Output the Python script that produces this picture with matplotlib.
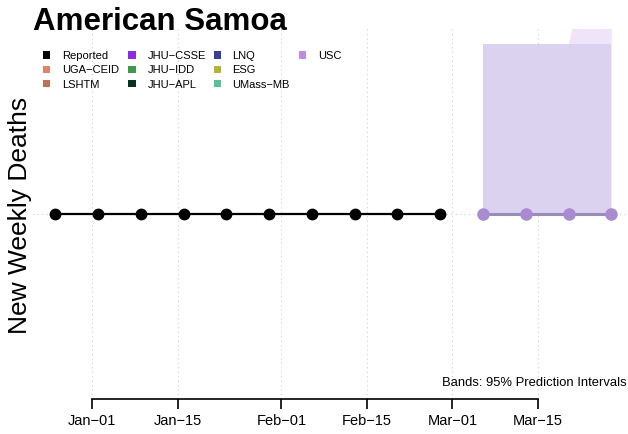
import matplotlib
matplotlib.use("Agg")
from matplotlib import pyplot as plt
from matplotlib.patches import Rectangle
import matplotlib.dates as mdates
import datetime as dt

plt.rcParams['font.family'] = ['Liberation Sans', 'DejaVu Sans']

# reported weekly deaths (all zero)
rep_dates = [dt.date(2020, 12, 26) + dt.timedelta(days=7 * i) for i in range(10)]
rep_vals = [0, 0, 0, 0, 0, 0, 0, 0, 0, 0]

# USC forecast with 95% band
fc_dates = [dt.date(2021, 3, 6), dt.date(2021, 3, 13), dt.date(2021, 3, 20), dt.date(2021, 3, 27)]
fc_vals = [0, 0, 0, 0]
band_lo = [0, 0, 0, 0]
band_hi_inner = [0.92, 0.92, 0.92, 0.92]
band_hi_outer = [0.92, 0.92, 0.92, 2.07]

models = ["Reported", "UGA\u2212CEID", "LSHTM", "JHU\u2212CSSE", "JHU\u2212IDD",
          "JHU\u2212APL", "LNQ", "ESG", "UMass\u2212MB", "USC"]
model_cols = ["#000000", "#E0826A", "#BF7058", "#8B2BE2", "#3E9A48",
              "#05331F", "#3A3D98", "#B5B434", "#55BF9E", "#C08AE0"]

tick_dates = [dt.date(2021, 1, 1), dt.date(2021, 1, 15), dt.date(2021, 2, 1),
              dt.date(2021, 2, 15), dt.date(2021, 3, 1), dt.date(2021, 3, 15)]
tick_labels = ["Jan\u221201", "Jan\u221215", "Feb\u221201", "Feb\u221215", "Mar\u221201", "Mar\u221215"]

fig = plt.figure(figsize=(6.28, 4.35), dpi=100)
W, H = 628, 435
ax = fig.add_axes([33 / W, 1 - 400 / H, (628 - 33) / W, 370 / H])

# x limits so Jan-01 sits at px 92 and Mar-15 at px 538
d0 = mdates.date2num(dt.date(2021, 1, 1))
ppd = (538 - 92) / 73.0
ax.set_xlim(d0 - (92 - 33) / ppd, d0 + (628 - 92) / ppd)
ax.set_ylim(-1, 1)

for d in tick_dates:
    ax.axvline(mdates.date2num(d), color="#cccccc", lw=0.8, ls=(0, (1, 3)), zorder=0)
ax.axhline(0, color="#cccccc", lw=0.8, ls=(0, (1, 3)), zorder=0)

fx = mdates.date2num(fc_dates)
ax.fill_between(fx, band_lo, band_hi_outer, color="#F0E4FA", lw=0, zorder=1)
ax.fill_between(fx, band_lo, band_hi_inner, color="#DAD2EE", lw=0, zorder=1)

ax.plot(mdates.date2num(rep_dates), rep_vals, color="black", lw=1.6, marker="o",
        ms=7.5, zorder=3)
ax.plot(fx, fc_vals, color="#9A8BB8", lw=2.2, zorder=3)
ax.plot(fx, fc_vals, ls="none", marker="o", ms=8, color="#A98BD1", zorder=4)

for s in ["top", "right", "left"]:
    ax.spines[s].set_visible(False)
ax.spines["bottom"].set_bounds(mdates.date2num(tick_dates[0]), mdates.date2num(tick_dates[-1]))
ax.spines["bottom"].set_linewidth(1.2)
ax.set_xticks(mdates.date2num(tick_dates))
ax.set_xticklabels(tick_labels, fontsize=10.5)
ax.tick_params(axis="x", length=7, width=1.2, pad=3)
ax.set_yticks([])

fig.text(20 / W, 1 - 215 / H, "New Weekly Deaths", fontsize=19, rotation=90,
         ha="center", va="center")
fig.text(33 / W, 1 - 30 / H, "American Samoa", fontsize=22.5, fontweight="bold",
         ha="left", va="baseline")

# legend: 4 columns, filled top to bottom
for i, (name, col) in enumerate(zip(models, model_cols)):
    c, r = divmod(i, 3)
    x0 = 43 + 85.3 * c
    y0 = 56 + 14.3 * r
    fig.patches.append(Rectangle((x0 / W, 1 - (y0 + 3.6) / H), 7.3 / W, 7.3 / H,
                                 transform=fig.transFigure, facecolor=col, edgecolor="none"))
    fig.text((x0 + 19) / W, 1 - y0 / H, name, fontsize=8, ha="left", va="center")

fig.text(627 / W, 1 - 383 / H, "Bands: 95% Prediction Intervals", fontsize=9.4,
         ha="right", va="center")

fig.savefig("out.png", dpi=100)
